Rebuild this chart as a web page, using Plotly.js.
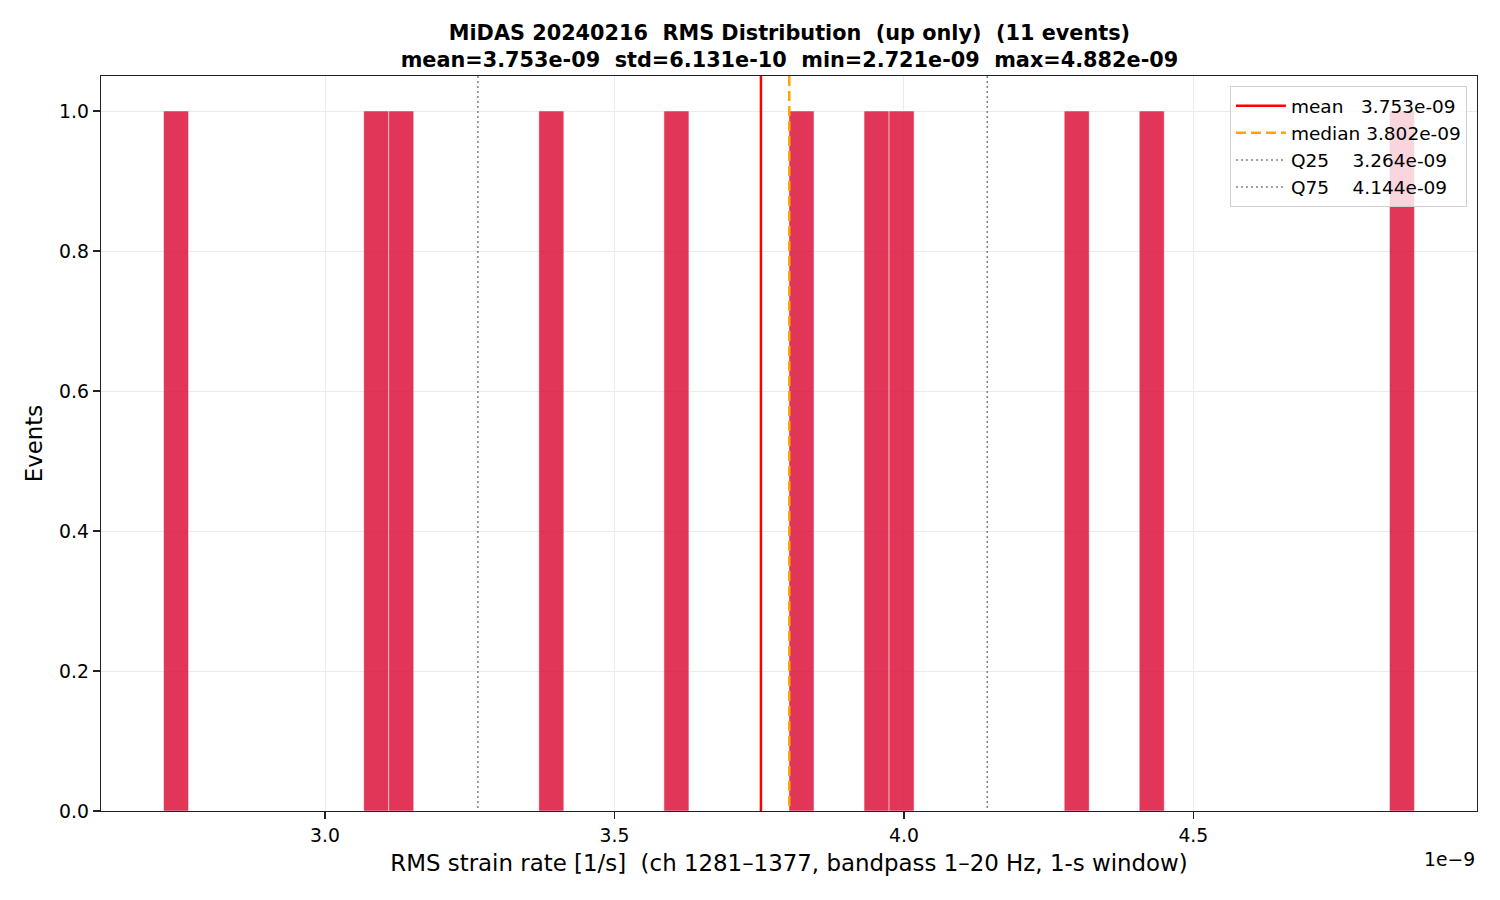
<!DOCTYPE html>
<html>
<head>
<meta charset="utf-8">
<script src="https://cdn.plot.ly/plotly-3.0.1.min.js"></script>
<style>
html,body{margin:0;padding:0;background:#fff;}
#chart{width:1500px;height:900px;}
</style>
</head>
<body>
<div id="chart"></div>
<script>
// Event RMS values, in units of 1e-9 1/s
const rmsValues = [2.721, 3.080, 3.130, 3.398, 3.600, 3.802, 3.950, 3.990, 4.298, 4.430, 4.882];
const nBins = 50;
// Summary statistics (units of 1e-9)
const statNames  = ["mean", "median", "Q25", "Q75"];
const statValues = [3.753, 3.802, 3.264, 4.144];
const statLabels = ["mean\u00a0\u00a0\u00a03.753e-09", "median 3.802e-09", "Q25\u00a0\u00a0\u00a0\u00a03.264e-09", "Q75\u00a0\u00a0\u00a0\u00a04.144e-09"];
const xTickVals = [3.0, 3.5, 4.0, 4.5];
const xTickText = ["3.0", "3.5", "4.0", "4.5"];
const yTickVals = [0.0, 0.2, 0.4, 0.6, 0.8, 1.0];
const yTickText = ["0.0", "0.2", "0.4", "0.6", "0.8", "1.0"];

// histogram binning (matplotlib style: last bin inclusive)
const lo = Math.min(...rmsValues), hi = Math.max(...rmsValues);
const bw = (hi - lo) / nBins;
const counts = new Array(nBins).fill(0);
rmsValues.forEach(v => {
  let k = Math.floor((v - lo) / bw + 1e-9);
  if (k >= nBins) k = nBins - 1;
  counts[k]++;
});
const bx = [], by = [];
counts.forEach((c, i) => { if (c > 0) { bx.push(lo + (i + 0.5) * bw); by.push(c); } });
const maxCount = Math.max(...counts);
const yTop = maxCount * 1.05;
const pad = (hi - lo) * 0.05;

const F = "DejaVu Sans, sans-serif";
const traces = [{
  type: "bar", x: bx, y: by, width: bw,
  marker: {color: "crimson", opacity: 0.85, line: {color: "white", width: 0.5}},
  showlegend: false, hoverinfo: "x+y"
}];
const styles = [
  {color: "red", width: 2.5, dash: "solid"},
  {color: "orange", width: 2.5, dash: "10px,5px"},
  {color: "gray", width: 1.5, dash: "2px,3px"},
  {color: "gray", width: 1.5, dash: "2px,3px"}
];
statValues.forEach((v, i) => {
  traces.push({
    type: "scatter", mode: "lines", x: [v, v], y: [yTop, 0],
    line: styles[i], name: statLabels[i], showlegend: true
  });
});

const layout = {
  width: 1500, height: 900,
  paper_bgcolor: "white", plot_bgcolor: "white",
  margin: {l: 101, r: 23, t: 76, b: 89},
  font: {family: F, color: "black"},
  title: {
    text: "<b>MiDAS 20240216\u00a0\u00a0RMS Distribution\u00a0\u00a0(up only)\u00a0\u00a0(11 events)</b><br><b>mean=3.753e-09\u00a0\u00a0std=6.131e-10\u00a0\u00a0min=2.721e-09\u00a0\u00a0max=4.882e-09</b>",
    font: {family: F, size: 20.8, color: "black"},
    x: 0.5263, xanchor: "center", y: 0.964, yanchor: "top", pad: {t: 8}
  },
  xaxis: {
    range: [lo - pad, hi + pad],
    tickvals: xTickVals, ticktext: xTickText,
    ticks: "outside", ticklen: 7, tickwidth: 1.3, tickcolor: "#222",
    showline: true, linecolor: "#222", linewidth: 1.3, mirror: true,
    showgrid: true, gridcolor: "#ebebeb", gridwidth: 1, zeroline: false,
    tickfont: {family: F, size: 18.8},
    title: {text: "RMS strain rate [1/s]\u00a0\u00a0(ch 1281–1377, bandpass 1–20 Hz, 1-s window)", font: {family: F, size: 22.9}, standoff: 10}
  },
  yaxis: {
    range: [0, yTop],
    tickvals: yTickVals, ticktext: yTickText,
    ticks: "outside", ticklen: 7, tickwidth: 1.3, tickcolor: "#222",
    showline: true, linecolor: "#222", linewidth: 1.3, mirror: true,
    showgrid: true, gridcolor: "#ebebeb", gridwidth: 1, zeroline: false,
    tickfont: {family: F, size: 18.8},
    title: {text: "Events", font: {family: F, size: 22.9}, standoff: 10}
  },
  legend: {
    x: 0.9927, xanchor: "right", y: 0.986, yanchor: "top",
    bgcolor: "rgba(255,255,255,0.8)", bordercolor: "#d0d0d0", borderwidth: 1,
    font: {family: F, size: 18.5}, tracegroupgap: 0, itemwidth: 50
  },
  annotations: [{
    xref: "paper", yref: "paper", x: 1, y: 0, xanchor: "right", yanchor: "top",
    yshift: -36, text: "1e\u22129", showarrow: false, font: {family: F, size: 18.8}
  }],
  bargap: 0
};
Plotly.newPlot("chart", traces, layout, {displayModeBar: false, staticPlot: true});
</script>
</body>
</html>
